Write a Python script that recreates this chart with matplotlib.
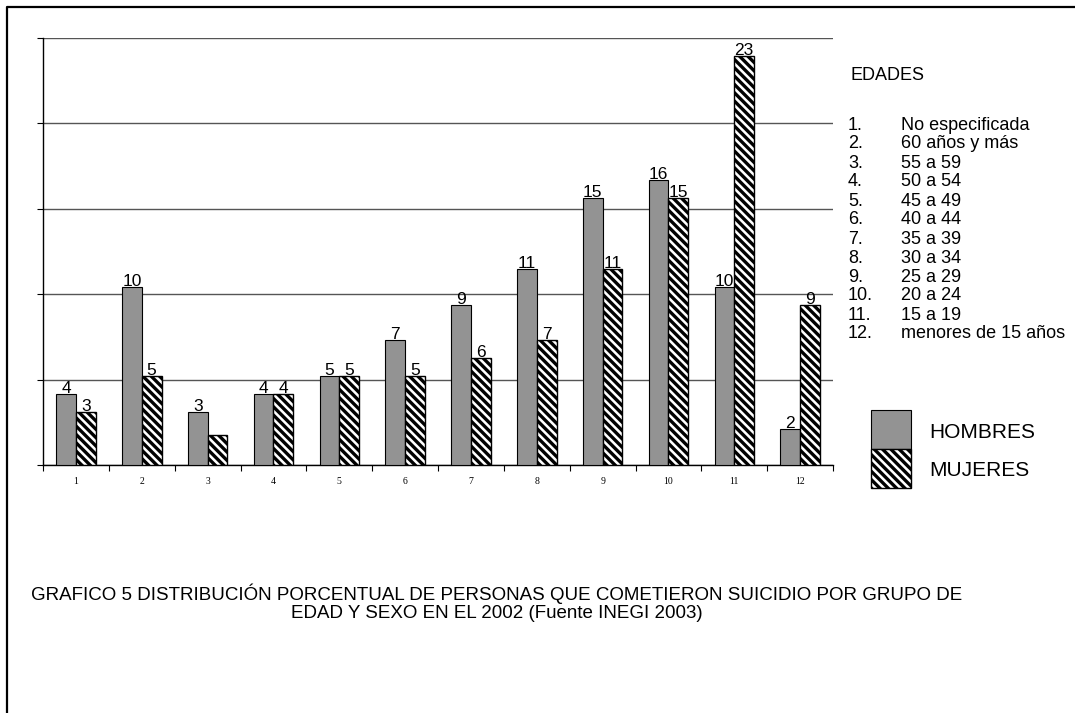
import matplotlib
matplotlib.use("Agg")
import matplotlib.pyplot as plt
import numpy as np
from matplotlib.patches import Rectangle
from matplotlib.lines import Line2D

# Age groups (1..12) and percentage of suicides by sex, 2002
grupos = [str(i) for i in range(1, 13)]
hombres = [4, 10, 3, 4, 5, 7, 9, 11, 15, 16, 10, 2]
mujeres = [3, 5, 1.7, 4, 5, 5, 6, 7, 11, 15, 23, 9]
# value labels shown above the bars (None = no label)
etiquetas_h = ["4", "10", "3", "4", "5", "7", "9", "11", "15", "16", "10", "2"]
etiquetas_m = ["3", "5", None, "4", "5", "5", "6", "7", "11", "15", "23", "9"]

edades = ["No especificada", "60 años y más", "55 a 59", "50 a 54", "45 a 49",
          "40 a 44", "35 a 39", "30 a 34", "25 a 29", "20 a 24", "15 a 19",
          "menores de 15 años"]
series = ["HOMBRES", "MUJERES"]
titulo = ("GRAFICO 5 DISTRIBUCIÓN PORCENTUAL DE PERSONAS QUE COMETIERON SUICIDIO POR GRUPO DE\n"
          "EDAD Y SEXO EN EL 2002 (Fuente INEGI 2003)")

plt.rcParams["font.family"] = ["Liberation Sans", "DejaVu Sans"]
plt.rcParams["hatch.linewidth"] = 2.4

W, H = 1075, 713
fig = plt.figure(figsize=(W / 100, H / 100), dpi=100)
fig.patch.set_facecolor("white")


def fx(px):
    return px / W


def fy(py):
    return 1 - py / H


ax = fig.add_axes([fx(43), fy(465), fx(833) - fx(43), fy(38) - fy(465)])

x = np.arange(1, 13)
bw = 0.30
H_FACE = "#939393"


def style_h(**kw):
    return dict(facecolor=H_FACE, edgecolor="black", linewidth=0.8, **kw)


def style_m(**kw):
    return dict(facecolor="white", edgecolor="black", linewidth=1.0,
                hatch="\\\\\\\\", **kw)


ax.bar(x - bw / 2, hombres, width=bw, zorder=3, **style_h())
ax.bar(x + bw / 2, mujeres, width=bw, zorder=3, **style_m())

for xi, v, t in zip(x - bw / 2, hombres, etiquetas_h):
    if t is not None:
        ax.annotate(t, (xi, v), xytext=(0, -2), textcoords="offset pixels",
                    ha="center", va="bottom", fontsize=12.5, zorder=2)
for xi, v, t in zip(x + bw / 2, mujeres, etiquetas_m):
    if t is not None:
        ax.annotate(t, (xi, v), xytext=(0, -2), textcoords="offset pixels",
                    ha="center", va="bottom", fontsize=12.5, zorder=2)

ax.set_xlim(0.5, 12.5)
ax.set_ylim(0, 24)
ax.set_yticks(np.linspace(0, 24, 6))
ax.set_yticklabels([])
ax.yaxis.grid(True, color="#555555", linewidth=1.0, zorder=1)
ax.set_axisbelow(True)
ax.tick_params(axis="y", direction="out", length=4, width=0.8, color="black")

ax.set_xticks(x)
ax.set_xticklabels(grupos, fontfamily="Liberation Serif", fontsize=7)
ax.set_xticks(np.arange(0.5, 13.0, 1.0), minor=True)
ax.tick_params(axis="x", which="major", length=0, pad=9)
ax.tick_params(axis="x", which="minor", direction="out", length=4, width=0.8)

for s in ("top", "right"):
    ax.spines[s].set_visible(False)
for s in ("left", "bottom"):
    ax.spines[s].set_color("black")
    ax.spines[s].set_linewidth(1.0)

# age-group key
fig.text(fx(850), fy(76), "EDADES", fontsize=13, va="center", ha="left")
for i, e in enumerate(edades):
    yy = fy(125 + 19.0 * i)
    fig.text(fx(848), yy, f"{i + 1}.", fontsize=13, va="center", ha="left")
    fig.text(fx(901), yy, e, fontsize=13, va="center", ha="left")

# series key
fig.add_artist(Rectangle((fx(871), fy(449)), fx(911) - fx(871), fy(410) - fy(449),
                         transform=fig.transFigure, **style_h()))
fig.add_artist(Rectangle((fx(871), fy(488)), fx(911) - fx(871), fy(449) - fy(488),
                         transform=fig.transFigure, **style_m()))
fig.text(fx(929), fy(433), series[0], fontsize=15, va="center", ha="left")
fig.text(fx(929), fy(470), series[1], fontsize=15, va="center", ha="left")

# caption
fig.text(fx(497), fy(603), titulo, fontsize=13.5, ha="center", va="center",
         linespacing=1.1)

# page frame
fig.add_artist(Line2D([fx(7), fx(7), 1.0], [0.0, fy(7), fy(7)],
                      transform=fig.transFigure, color="black", linewidth=1.6))

fig.savefig("out.png", dpi=100, facecolor="white")
